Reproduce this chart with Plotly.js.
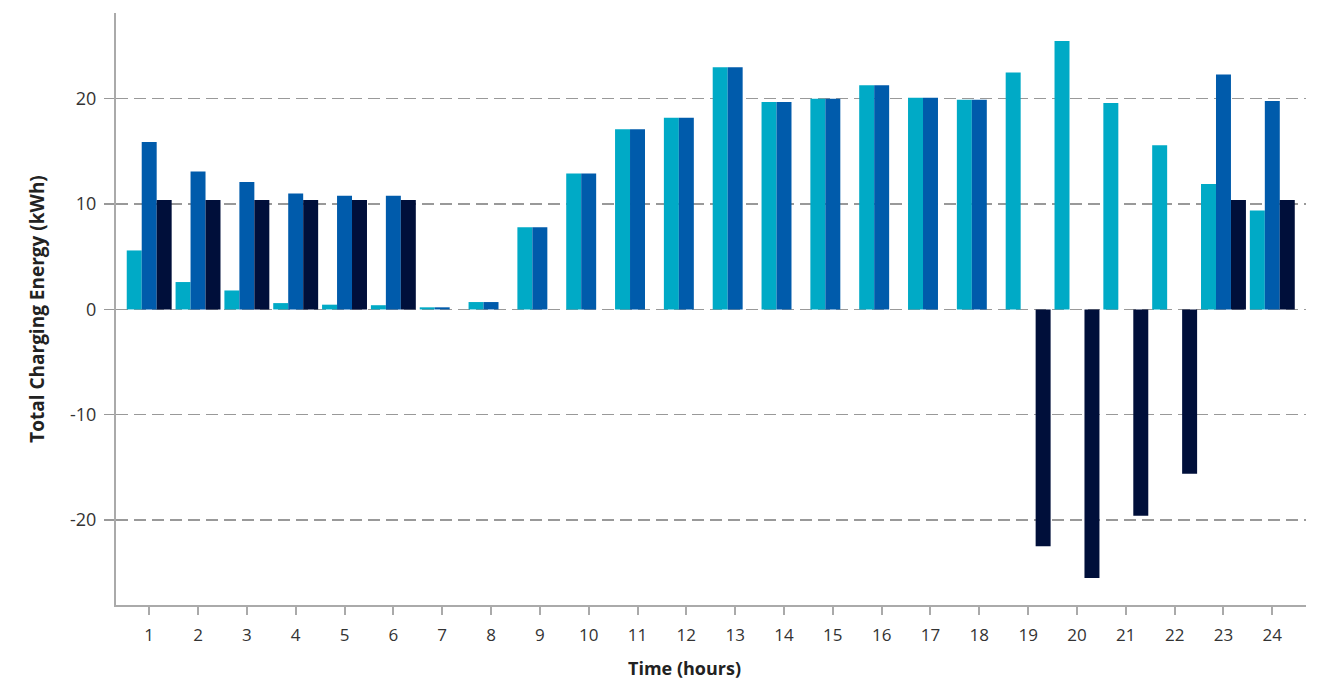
<!DOCTYPE html>
<html>
<head>
<meta charset="utf-8">
<script src="https://cdn.plot.ly/plotly-3.0.1.min.js"></script>
<style>html,body{margin:0;padding:0;background:#fff;}#chart{width:1321px;height:681px;}</style>
</head>
<body>
<div id="chart"></div>
<script>
const hours = [1,2,3,4,5,6,7,8,9,10,11,12,13,14,15,16,17,18,19,20,21,22,23,24];
const tickLabels = hours.map(String);
const yTickVals = [-20,-10,0,10,20];
const yTickLabels = ['-20','-10','0','10','20'];
const seriesA = [5.6,2.6,1.8,0.6,0.45,0.4,0.2,0.7,7.8,12.9,17.1,18.2,23.0,19.7,20.0,21.3,20.1,19.9,22.5,25.5,19.6,15.6,11.9,9.4];
const seriesB = [15.9,13.1,12.1,11.0,10.8,10.8,0.2,0.7,7.8,12.9,17.1,18.2,23.0,19.7,20.0,21.3,20.1,19.9,0,0,0,0,22.3,19.8];
const seriesC = [10.4,10.4,10.4,10.4,10.4,10.4,0,0,0,0,0,0,0,0,0,0,0,0,-22.5,-25.5,-19.6,-15.6,10.4,10.4];

const fontFam = '"Open Sans", "Noto Sans", sans-serif';
const traces = [
  {type:'bar', x:hours, y:seriesA, marker:{color:'#00aac6'}, name:'A'},
  {type:'bar', x:hours, y:seriesB, marker:{color:'#005bab'}, name:'B'},
  {type:'bar', x:hours, y:seriesC, marker:{color:'#000f3a'}, name:'C'}
];
const layout = {
  width:1321, height:681,
  margin:{l:116, r:15, t:13, b:76},
  paper_bgcolor:'#fff', plot_bgcolor:'#fff',
  showlegend:false,
  barmode:'group', bargap:0.08, bargroupgap:0,
  font:{family:fontFam, color:'#333', size:17},
  xaxis:{
    range:[0.32, 24.69], tickvals:hours, ticktext:tickLabels,
    showgrid:false, zeroline:false,
    showline:true, linecolor:'#aaaaaa', linewidth:2,
    ticks:'outside', ticklen:8, tickwidth:2, tickcolor:'#aaaaaa',
    ticklabelstandoff:6,
    tickfont:{size:17, color:'#333'}
  },
  yaxis:{
    range:[-28.07, 28.15], tickvals:yTickVals, ticktext:yTickLabels,
    showgrid:true, gridcolor:'#999999', griddash:'12px,6px', gridwidth:1.3,
    zeroline:false,
    showline:true, linecolor:'#aaaaaa', linewidth:2,
    ticks:'outside', ticklen:10, tickwidth:1.3, tickcolor:'#999999',
    ticklabelstandoff:4,
    tickfont:{size:18, color:'#333'},
    title:{text:'<b>Total Charging Energy (kWh)</b>', font:{size:19, color:'#222'}, standoff:20}
  },
  annotations:[
    {text:'<b>Time (hours)</b>', xref:'paper', yref:'paper', x:0.478, y:-0.106,
     xanchor:'center', yanchor:'middle', showarrow:false, font:{size:18, color:'#222'}}
  ]
};
Plotly.newPlot('chart', traces, layout, {displayModeBar:false, staticPlot:true});
</script>
</body>
</html>
